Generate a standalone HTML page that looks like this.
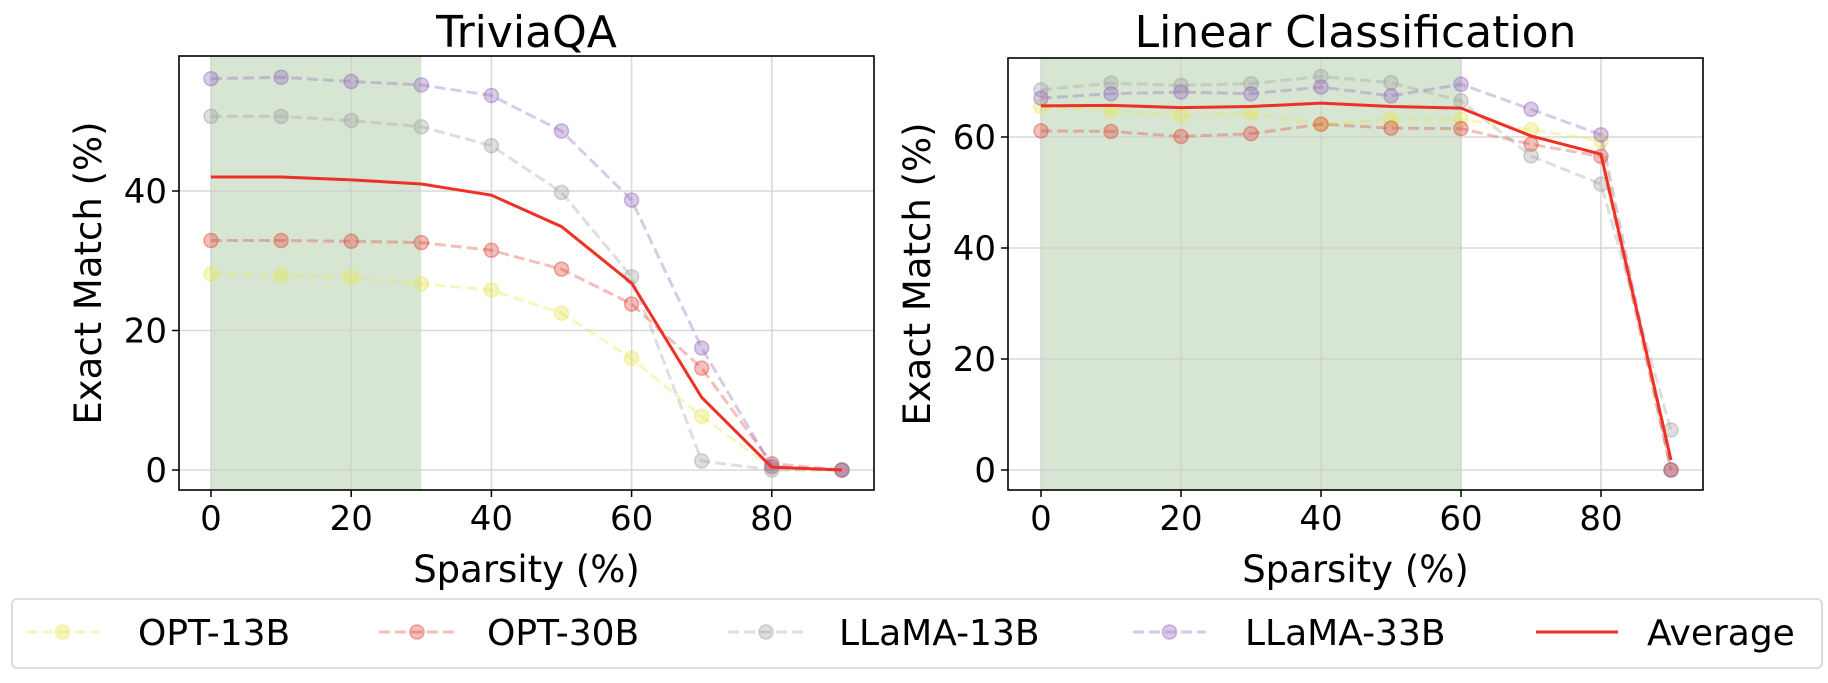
<!DOCTYPE html>
<html><head><meta charset="utf-8"><style>
body{margin:0;background:#fff}
svg text{font-family:"DejaVu Sans","Liberation Sans",sans-serif;fill:#000}
</style></head><body>
<svg id="chart" width="1828" height="678" xmlns="http://www.w3.org/2000/svg"></svg>
<script>
const sparsity=[0,10,20,30,40,50,60,70,80,90];
const seriesNames=["OPT-13B","OPT-30B","LLaMA-13B","LLaMA-33B"];
const triviaOpt13=[28.1,27.9,27.6,26.7,25.8,22.5,16.0,7.7,0.3,0];
const triviaOpt30=[32.9,32.9,32.8,32.6,31.5,28.8,23.8,14.6,0.9,0];
const triviaLlama13=[50.7,50.7,50.1,49.2,46.5,39.8,27.7,1.3,0,0];
const triviaLlama33=[56.1,56.3,55.7,55.2,53.7,48.6,38.7,17.5,0.5,0];
const triviaAvg=[42.0,42.0,41.6,41.0,39.4,34.9,26.8,10.4,0.4,0];
const linOpt13=[65.5,64.7,63.8,64.3,62.3,63.2,63.2,61.3,59.3,0];
const linOpt30=[61.1,61.0,60.1,60.6,62.3,61.6,61.5,58.7,56.5,0];
const linLlama13=[68.5,69.7,69.3,69.6,70.9,69.8,66.5,56.6,51.5,7.2];
const linLlama33=[67.0,67.8,68.1,67.8,69.0,67.4,69.5,65.0,60.4,0];
const linAvg=[65.6,65.7,65.3,65.5,66.1,65.5,65.2,60.2,56.9,1.8];
const xTicks=[0,20,40,60,80];
const triviaYTicks=[0,20,40];
const linYTicks=[0,20,40,60];
const colors=["#e6e650","#e0443a","#a0a0a0","#9467bd"];
const NS="http://www.w3.org/2000/svg";
const svg=document.getElementById('chart');
function mk(tag,attrs,parent){const e=document.createElementNS(NS,tag);for(const k in attrs)e.setAttribute(k,attrs[k]);(parent||svg).appendChild(e);return e;}
function panel(p){
  const g=mk('g',{});
  
  
  const xs=v=>p.x0+v*p.px;
  const ys=v=>p.y0-v*p.py;
  const sh=mk('rect',{x:xs(0),y:p.top,width:xs(p.shade)-xs(0),height:p.bottom-p.top,fill:"#d6e6d3"},g);
  
  
  xTicks.forEach(t=>{
    const l=mk('line',{x1:xs(t),x2:xs(t),y1:p.top,y2:p.bottom,stroke:"#cfcfcf","stroke-width":1.6,"stroke-opacity":0.8},g);
    
    
    mk('line',{x1:xs(t),x2:xs(t),y1:p.bottom,y2:p.bottom+7,stroke:"#000","stroke-width":1.5},g);
    const tx=mk('text',{x:xs(t),y:p.bottom+40,"font-size":34,"text-anchor":"middle"},g);
    tx.textContent=t;
    
    
  });
  p.yTicks.forEach(t=>{
    const l=mk('line',{x1:p.left,x2:p.right,y1:ys(t),y2:ys(t),stroke:"#cfcfcf","stroke-width":1.6,"stroke-opacity":0.8},g);
    
    
    mk('line',{x1:p.left-7,x2:p.left,y1:ys(t),y2:ys(t),stroke:"#000","stroke-width":1.5},g);
    const tx=mk('text',{x:p.left-12,y:ys(t)+12,"font-size":34,"text-anchor":"end"},g);
    tx.textContent=t;
    
    
  });
  p.series.forEach((s,i)=>{
    const pts=sparsity.map((x,j)=>xs(x)+","+ys(s[j])).join(" ");
    const pl=mk('polyline',{points:pts,fill:"none",stroke:colors[i],"stroke-width":3,"stroke-dasharray":"11,5","stroke-opacity":0.35},g);
    
    
    sparsity.forEach((x,j)=>{
      const c=mk('circle',{cx:xs(x),cy:ys(s[j]),r:7,fill:colors[i],"fill-opacity":0.35,stroke:colors[i],"stroke-opacity":0.45,"stroke-width":1.5},g);
      
      
    });
  });
  const av=mk('polyline',{points:sparsity.map((x,j)=>xs(x)+","+ys(p.avg[j])).join(" "),fill:"none",stroke:"#ee3124","stroke-width":3},g);
  
  
  const fr=mk('rect',{x:p.left,y:p.top,width:p.right-p.left,height:p.bottom-p.top,fill:"none",stroke:"#000","stroke-width":1.6},g);
  
  
  const ti=mk('text',{x:(p.left+p.right)/2,y:47,"font-size":44,"text-anchor":"middle"},g);
  ti.textContent=p.title;
  
  
  const xl=mk('text',{x:(p.left+p.right)/2,y:582,"font-size":37,"text-anchor":"middle"},g);
  xl.textContent="Sparsity (%)";
  
  
  const cy=(p.top+p.bottom)/2;
  const yx=p.left-78;
  const yl=mk('text',{x:yx,y:cy,"font-size":37,"text-anchor":"middle",transform:`rotate(-90 ${yx} ${cy})`},g);
  yl.textContent="Exact Match (%)";
  
  
}
panel({name:'triviaqa-panel',title:'TriviaQA',x0:211,px:7.01,y0:470,py:6.975,left:179,right:874,top:56,bottom:490,shade:30,yTicks:triviaYTicks,series:[triviaOpt13,triviaOpt30,triviaLlama13,triviaLlama33],avg:triviaAvg});
panel({name:'linear-classification-panel',title:'Linear Classification',x0:1041,px:7.0,y0:470,py:5.55,left:1008,right:1703,top:58,bottom:490,shade:60,yTicks:linYTicks,series:[linOpt13,linOpt30,linLlama13,linLlama33],avg:linAvg});
const lg=mk('g',{});


mk('rect',{x:12,y:599,width:1810,height:69,rx:5,fill:"#fff",stroke:"#d4d4d4","stroke-width":1.6},lg);
const legX=[[26,99,138],[379,455,487],[728,804,839],[1133,1206,1245]];
seriesNames.forEach((n,i)=>{
  const e=mk('g',{},lg);
  
  
  mk('line',{x1:legX[i][0],x2:legX[i][1],y1:632,y2:632,stroke:colors[i],"stroke-width":3,"stroke-dasharray":"11,5","stroke-opacity":0.35},e);
  mk('circle',{cx:(legX[i][0]+legX[i][1])/2,cy:632,r:7,fill:colors[i],"fill-opacity":0.35,stroke:colors[i],"stroke-opacity":0.45,"stroke-width":1.5},e);
  const t=mk('text',{x:legX[i][2],y:645,"font-size":36},e);
  t.textContent=n;
});
const ae=mk('g',{},lg);


mk('line',{x1:1536,x2:1618,y1:632,y2:632,stroke:"#ee3124","stroke-width":3},ae);
const at=mk('text',{x:1647,y:645,"font-size":36},ae);
at.textContent="Average";
</script>
</body></html>
